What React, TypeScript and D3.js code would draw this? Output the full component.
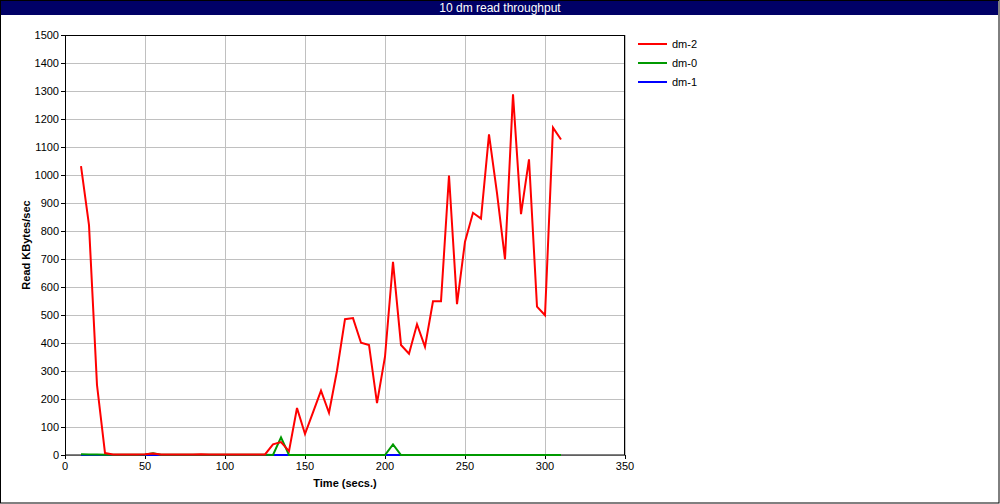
import React from "react";
import * as d3 from "d3";

const times = [10,15,20,25,30,35,40,45,50,55,60,65,70,75,80,85,90,95,100,105,110,115,120,125,130,135,140,145,150,155,160,165,170,175,180,185,190,195,200,205,210,215,220,225,230,235,240,245,250,255,260,265,270,275,280,285,290,295,300,305,310];
const dm2 = [1032,821,250,7,2,2,2,2,3,5,2,2,2,2,2,3,2,2,2,2,2,2,2,2,38,46,14,168,75,152,230,151,301,485,489,401,393,185,351,690,393,362,467,386,549,549,998,539,762,865,844,1145,935,699,1288,860,1056,530,499,1169,1127];
const dm0 = [3,2,2,1,1,1,1,1,2,6,1,1,1,1,1,1,1,1,1,1,1,1,1,1,0,63,0,0,0,0,0,0,0,0,0,0,0,0,0,38,0,0,0,0,0,0,0,0,0,0,0,0,0,0,0,0,0,0,0,0,0];
const dm1 = times.map(() => 0);
const seriesNames = ["dm-2", "dm-0", "dm-1"];
const seriesColors = ["#ff0000", "#009900", "#0000ff"];
const xTicks = [0, 50, 100, 150, 200, 250, 300, 350];
const yTicks = d3.range(0, 1501, 100);

export default function App() {
  const W = 1000, H = 504;
  const x = d3.scaleLinear().domain([0, 350]).range([65, 625]);
  const y = d3.scaleLinear().domain([0, 1500]).range([455, 35]);
  const line = d3.line<number>().x((_, i) => x(times[i])).y((d) => y(d));
  const series = [dm2, dm0, dm1];
  const font = "'Liberation Sans', Arial, sans-serif";
  const drawOrder = [2, 1, 0];
  return (
    <svg width={W} height={H} style={{ position: "absolute", left: 0, top: 0 }} fontFamily={font}>
      <rect x={0} y={0} width={W} height={H} fill="#fff" />
      <rect x={0.5} y={0.5} width={W - 1.5} height={H - 1.5} fill="none" stroke="#000" />
      <rect x={1} y={1} width={W - 3} height={14} fill="#000066" />
      <text x={500} y={12} fill="#fff" fontSize={12} textAnchor="middle">10 dm read throughput</text>
      {yTicks.map((t) => (
        <g key={"y" + t}>
          <line x1={65} x2={625} y1={Math.round(y(t)) + 0.5} y2={Math.round(y(t)) + 0.5} stroke="#c0c0c0" />
          <line x1={61} x2={65} y1={Math.round(y(t)) + 0.5} y2={Math.round(y(t)) + 0.5} stroke="#000" />
          <text x={59} y={y(t) + 4} fontSize={11} textAnchor="end">{t}</text>
        </g>
      ))}
      {xTicks.map((t) => (
        <g key={"x" + t}>
          <line x1={Math.round(x(t)) + 0.5} x2={Math.round(x(t)) + 0.5} y1={35} y2={455} stroke="#c0c0c0" />
          <line x1={Math.round(x(t)) + 0.5} x2={Math.round(x(t)) + 0.5} y1={455} y2={459} stroke="#000" />
          <text x={x(t)} y={470} fontSize={11} textAnchor="middle">{t}</text>
        </g>
      ))}
      <rect x={65.5} y={35.5} width={559} height={419.5} fill="none" stroke="#000" />
      {drawOrder.map((si) => (
        <path key={si} d={line(series[si]) || ""} fill="none" stroke={seriesColors[si]} strokeWidth={2} />
      ))}
      <text x={345} y={487} fontSize={11} fontWeight="bold" textAnchor="middle">Time (secs.)</text>
      <text transform="translate(30,245) rotate(-90)" fontSize={11} fontWeight="bold" textAnchor="middle">Read KBytes/sec</text>
      {seriesNames.map((n, i) => (
        <g key={n}>
          <line x1={638} x2={667} y1={44 + i * 19} y2={44 + i * 19} stroke={seriesColors[i]} strokeWidth={2} />
          <text x={672} y={48 + i * 19} fontSize={11}>{n}</text>
        </g>
      ))}
    </svg>
  );
}
